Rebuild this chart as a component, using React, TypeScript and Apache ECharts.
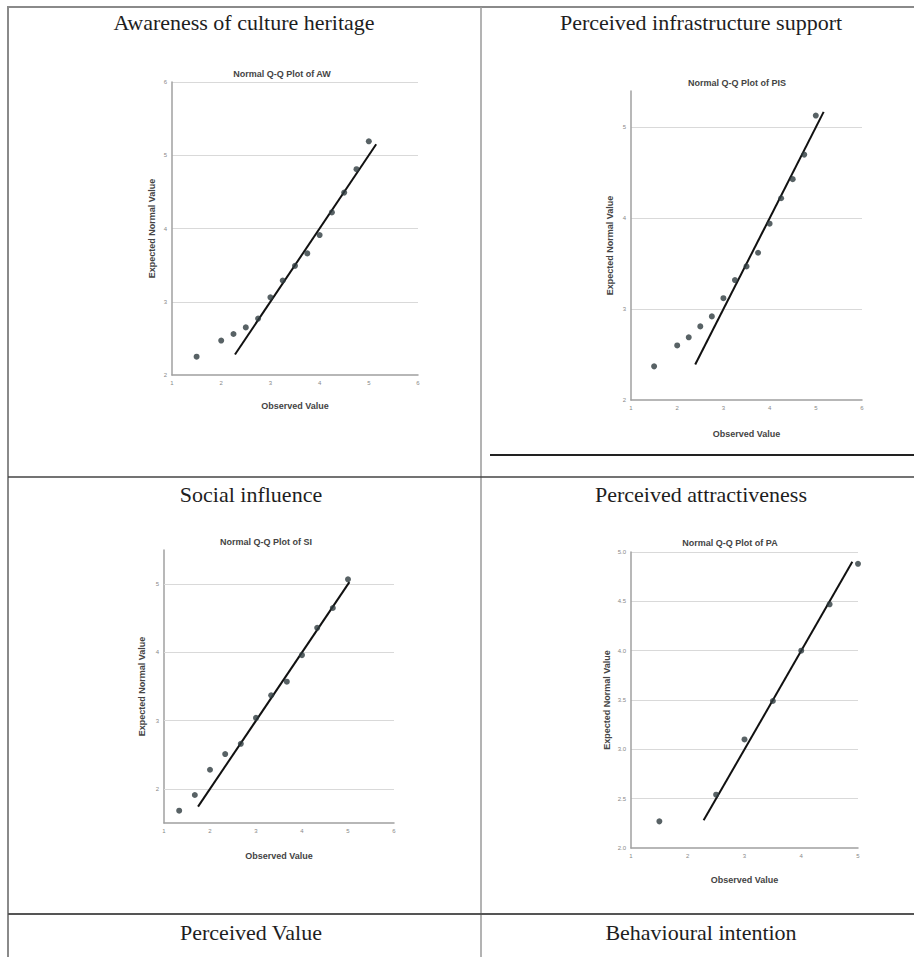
import React, { useEffect, useRef } from 'react';
import * as echarts from 'echarts';

// ---------- data ----------
const panelTitles = [
  'Awareness of culture heritage',
  'Perceived infrastructure support',
  'Social influence',
  'Perceived attractiveness',
  'Perceived Value',
  'Behavioural intention',
];
const plotTitles = [
  'Normal Q-Q Plot of AW',
  'Normal Q-Q Plot of PIS',
  'Normal Q-Q Plot of SI',
  'Normal Q-Q Plot of PA',
];

// AW
const awObserved = [1.5, 2.0, 2.25, 2.5, 2.75, 3.0, 3.25, 3.5, 3.75, 4.0, 4.25, 4.5, 4.75, 5.0];
const awExpected = [2.25, 2.47, 2.56, 2.65, 2.77, 3.06, 3.29, 3.49, 3.66, 3.91, 4.22, 4.49, 4.81, 5.19];
const awLine = [2.28, 5.15];
// PIS
const pisObserved = [1.5, 2.0, 2.25, 2.5, 2.75, 3.0, 3.25, 3.5, 3.75, 4.0, 4.25, 4.5, 4.75, 5.0];
const pisExpected = [2.37, 2.6, 2.69, 2.81, 2.92, 3.12, 3.32, 3.47, 3.62, 3.94, 4.22, 4.43, 4.7, 5.13];
const pisLine = [2.39, 5.17];
// SI
const siObserved = [1.33, 1.67, 2.0, 2.33, 2.67, 3.0, 3.33, 3.67, 4.0, 4.33, 4.67, 5.0];
const siExpected = [1.68, 1.91, 2.28, 2.51, 2.66, 3.04, 3.37, 3.57, 3.96, 4.36, 4.65, 5.07];
const siLine = [1.74, 5.03];
const siGridValues = [2, 3, 4, 5];
// PA
const paObserved = [1.5, 2.5, 3.0, 3.5, 4.0, 4.5, 5.0];
const paExpected = [2.27, 2.54, 3.1, 3.49, 4.0, 4.47, 4.88];
const paLine = [2.28, 4.9];

const xRanges = [
  [1, 6],
  [1, 6],
  [1, 6],
  [1, 5],
];
const yRanges = [
  [2, 6, 1],
  [2, 5.4, 1],
  [1.5, 5.5, 0.5],
  [2, 5, 0.5],
];

// ---------- styles ----------
const SANS = 'Liberation Sans, Arial, sans-serif';
const SERIF = 'Liberation Serif, Times New Roman, serif';
const AXIS_COLOR = '#a0a0a0';
const GRID_COLOR = '#d9d9d9';
const POINT_COLOR = '#2e3b3f';

const grids = [
  { left: 172, top: 82, width: 246, height: 293 },
  { left: 631, top: 91, width: 231, height: 309 },
  { left: 164, top: 550, width: 230, height: 273 },
  { left: 631, top: 552, width: 227, height: 296 },
];
const xNameGaps = [26, 29, 28, 27];
const yNameGaps = [16, 17, 18, 20];

export default function App() {
  const ref = useRef<HTMLDivElement>(null);

  useEffect(() => {
    if (!ref.current) return;
    const chart = echarts.init(ref.current, undefined, { renderer: 'svg' });

    const obs = [awObserved, pisObserved, siObserved, paObserved];
    const exp = [awExpected, pisExpected, siExpected, paExpected];
    const lines = [awLine, pisLine, siLine, paLine];

    const xAxis = grids.map((_, i) => ({
      type: 'value',
      gridIndex: i,
      min: xRanges[i][0],
      max: xRanges[i][1],
      interval: 1,
      name: 'Observed Value',
      nameLocation: 'middle',
      nameGap: xNameGaps[i],
      nameTextStyle: { fontSize: 9, fontWeight: 'bold', color: '#444', fontFamily: SANS },
      axisLine: { show: true, onZero: false, lineStyle: { color: AXIS_COLOR, width: 1.5 } },
      axisTick: { show: false },
      axisLabel: { fontSize: 6, color: '#888', margin: 5, fontFamily: SANS },
      splitLine: { show: false },
    }));

    const yAxis = grids.map((_, i) => {
      const [mn, mx, iv] = yRanges[i];
      let formatter: any = (v: number) => String(v);
      if (i === 2) formatter = (v: number) => (Number.isInteger(v) ? String(v) : '');
      if (i === 3) formatter = (v: number) => v.toFixed(1);
      return {
        type: 'value',
        gridIndex: i,
        min: mn,
        max: mx,
        interval: iv,
        name: 'Expected Normal Value',
        nameLocation: 'middle',
        nameGap: yNameGaps[i],
        nameTextStyle: { fontSize: 9, fontWeight: 'bold', color: '#444', fontFamily: SANS },
        axisLine: { show: true, onZero: false, lineStyle: { color: AXIS_COLOR, width: 1.5 } },
        axisTick: { show: false },
        axisLabel: {
          fontSize: 6,
          color: '#888',
          margin: 5,
          fontFamily: SANS,
          formatter,
          showMaxLabel: i !== 1,
        },
        splitLine: {
          show: i !== 2,
          showMinLine: false,
          showMaxLine: i !== 1,
          lineStyle: { color: GRID_COLOR, width: 1 },
        },
      };
    });

    const series: any[] = [];
    grids.forEach((_, i) => {
      const s: any = {
        type: 'scatter',
        xAxisIndex: i,
        yAxisIndex: i,
        symbol: 'circle',
        symbolSize: 6,
        itemStyle: { color: POINT_COLOR },
        data: obs[i].map((x, k) => [x, exp[i][k]]),
        z: 3,
      };
      if (i === 2) {
        s.markLine = {
          silent: true,
          symbol: ['none', 'none'],
          label: { show: false },
          lineStyle: { color: GRID_COLOR, type: 'solid', width: 1 },
          data: siGridValues.map((v) => ({ yAxis: v })),
          z: 1,
        };
      }
      series.push(s);
      series.push({
        type: 'line',
        xAxisIndex: i,
        yAxisIndex: i,
        symbol: 'none',
        lineStyle: { color: '#111', width: 2 },
        data: lines[i].map((v) => [v, v]),
        z: 2,
      });
    });

    const titleCenters = [
      [244, 22],
      [701, 22],
      [251, 494],
      [701, 494],
      [251, 932],
      [701, 932],
    ];
    const plotTitleCenters = [
      [282, 74],
      [737, 83],
      [266, 542],
      [730, 543],
    ];

    const graphic: any[] = [];
    const hLine = (x1: number, y1: number, x2: number, y2: number, stroke: string, w: number) =>
      graphic.push({
        type: 'line',
        shape: { x1, y1, x2, y2 },
        style: { stroke, lineWidth: w },
        silent: true,
      });
    hLine(7, 7, 914, 7, '#8a8a8a', 2);
    hLine(8, 7, 8, 957, '#8a8a8a', 2);
    hLine(481, 7, 481, 957, '#9a9a9a', 1.5);
    hLine(8, 477, 914, 477, '#444', 1.5);
    hLine(490, 455, 914, 455, '#222', 2);
    hLine(8, 914, 914, 914, '#555', 2);

    panelTitles.forEach((t, i) => {
      graphic.push({
        type: 'text',
        x: titleCenters[i][0],
        y: titleCenters[i][1],
        style: {
          text: t,
          fontSize: 22,
          fontFamily: SERIF,
          fill: '#1e1e1e',
          align: 'center',
          verticalAlign: 'middle',
        },
      });
    });
    plotTitles.forEach((t, i) => {
      graphic.push({
        type: 'text',
        x: plotTitleCenters[i][0],
        y: plotTitleCenters[i][1],
        style: {
          text: t,
          fontSize: 9,
          fontWeight: 'bold',
          fontFamily: SANS,
          fill: '#444',
          align: 'center',
          verticalAlign: 'middle',
        },
      });
    });

    chart.setOption({
      animation: false,
      backgroundColor: '#ffffff',
      grid: grids.map((g) => ({ ...g, containLabel: false })),
      xAxis,
      yAxis,
      series,
      graphic,
    });

    return () => chart.dispose();
  }, []);

  return (
    <div
      ref={ref}
      style={{ position: 'absolute', left: 0, top: 0, width: 914, height: 957, background: '#fff' }}
    />
  );
}
